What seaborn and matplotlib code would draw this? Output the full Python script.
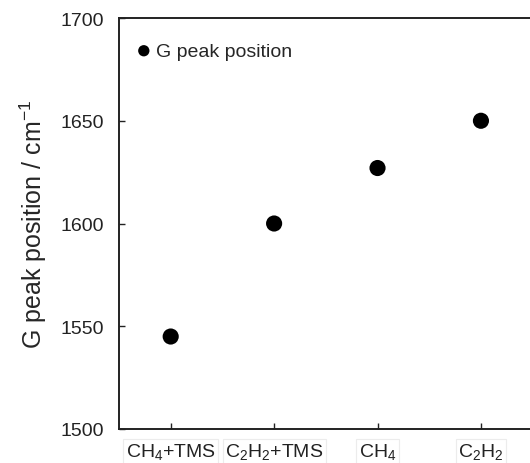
import pandas as pd
import seaborn as sns
import matplotlib.pyplot as plt

samples = [r"CH$_4$+TMS", r"C$_2$H$_2$+TMS", r"CH$_4$", r"C$_2$H$_2$"]
g_peak = [1545, 1600, 1627, 1650]

df = pd.DataFrame({"sample": samples, "g_peak": g_peak})

sns.set_style("ticks")
plt.rcParams["font.family"] = ["Liberation Sans", "DejaVu Sans"]
plt.rcParams["mathtext.default"] = "regular"

fig = plt.figure(figsize=(5.3, 4.64), dpi=100)
ax = fig.add_axes([0.2245, 0.0733, 0.7805, 0.8857])

sns.scatterplot(x="sample", y="g_peak", data=df, ax=ax, color="black",
                s=135, edgecolor="none", label="G peak position")

ax.set_xlim(-0.5, 3.5)
ax.set_ylim(1500, 1700)
ax.set_yticks([1500, 1550, 1600, 1650, 1700])
ax.set_xlabel("")
ax.set_ylabel("G peak position / cm$^{-1}$", fontsize=18)
ax.yaxis.set_label_coords(-0.17, 0.5)

for s in ax.spines.values():
    s.set_linewidth(1.4)
    s.set_color("#222222")
ax.tick_params(axis="both", direction="in", length=4, width=1, labelsize=14,
               colors="#222222")
ax.tick_params(axis="y", pad=11)
ax.tick_params(axis="x", pad=9)
for lbl in ax.get_xticklabels():
    lbl.set_bbox(dict(facecolor="white", edgecolor="#ececec", linewidth=0.8,
                      boxstyle="square,pad=0.12"))

leg = ax.legend(loc="upper left", frameon=False, fontsize=14, markerscale=0.7,
                handletextpad=0.05, handlelength=1.2, borderaxespad=0.0,
                bbox_to_anchor=(0.013, 0.96))

fig.savefig("out.png", dpi=100)
